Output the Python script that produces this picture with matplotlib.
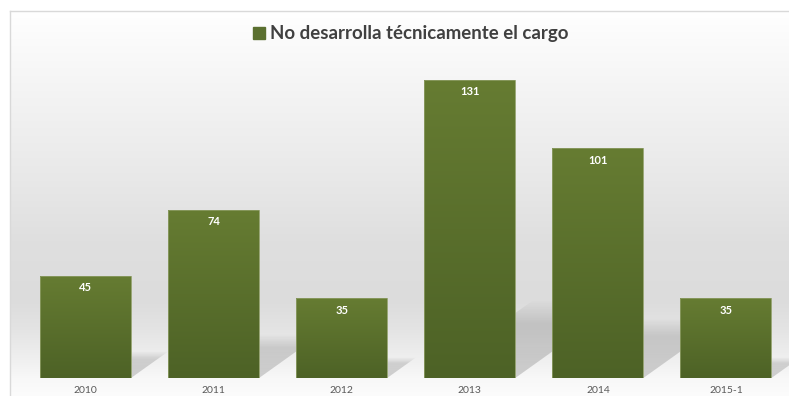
import numpy as np
import matplotlib
matplotlib.use('Agg')
import matplotlib.pyplot as plt
from matplotlib.patches import Polygon, Rectangle
from matplotlib.colors import LinearSegmentedColormap

categories = ['2010', '2011', '2012', '2013', '2014', '2015-1']
values = [45, 74, 35, 131, 101, 35]
series_name = 'No desarrolla técnicamente el cargo'

plt.rcParams['font.family'] = ['Lato', 'DejaVu Sans']

W, H = 789, 396
fig = plt.figure(figsize=(W / 100, H / 100), dpi=100)

# background with vertical gradient
bg = fig.add_axes([0, 0, 1, 1])
bg.set_axis_off()
ys = [0, 10, 60, 120, 180, 240, 300, 330, 360, 378, 396]
gs = [255, 255, 248, 240, 232, 223, 220, 228, 240, 248, 252]
rows = np.interp(np.arange(H), ys, gs) / 255.0
img = np.repeat(rows[:, None], W, axis=1)
img[:10, :] = 1.0
img[:, :10] = 1.0
bg.imshow(np.dstack([img] * 3), extent=[0, W, H, 0], aspect='auto', zorder=0)
bg.plot([10.5, 10.5], [10.5, H], color='#d9d9d9', lw=1, zorder=1)
bg.plot([10.5, W], [10.5, 10.5], color='#d9d9d9', lw=1, zorder=1)
bg.set_xlim(0, W)
bg.set_ylim(H, 0)

# legend
bg.add_patch(Rectangle((253, 27), 12, 12, color='#5b7030', zorder=2))
bg.text(270, 33, series_name, ha='left', va='center', fontsize=13.4,
        fontweight='bold', color='#404040', zorder=2)

# main axes
ax = fig.add_axes([21.5 / W, 18 / H, 768.5 / W, 318.5 / H])
ax.patch.set_alpha(0)
x = np.arange(len(categories))
bars = ax.bar(x, values, width=0.71, color='none', edgecolor='#8c9c64',
              lw=0.6, zorder=3)

green = LinearSegmentedColormap.from_list('g', ['#4d6226', '#667c32'])
shadow_cmap = LinearSegmentedColormap.from_list(
    's', [(0.0, (0, 0, 0, 0.17)), (0.7, (0, 0, 0, 0.14)), (1.0, (0, 0, 0, 0.0))])
grad = np.linspace(0, 1, 256)[:, None]

px_x = 768.5 / 6.0
px_y = 318.5 / 140.0
for b, v in zip(bars, values):
    x0 = b.get_x()
    x1 = x0 + b.get_width()
    # shadow (perspective, skewed up-right)
    hs = 0.26 * v
    dx = hs * px_y * 1.4 / px_x
    poly = Polygon([(x0, 0), (x1, 0), (x1 + dx, hs), (x0 + dx, hs)],
                   closed=True, facecolor='none', edgecolor='none')
    ax.add_patch(poly)
    im = ax.imshow(grad, cmap=shadow_cmap, origin='lower', aspect='auto',
                   extent=(x0, x1 + dx, 0, hs), zorder=2)
    im.set_clip_path(poly)
    # bar gradient
    im2 = ax.imshow(grad, cmap=green, origin='lower', aspect='auto',
                    extent=(x0, x1, 0, v), zorder=2.5)
    im2.set_clip_path(b)
    ax.annotate(str(v), (b.get_x() + b.get_width() / 2, v), xytext=(0, -12),
                textcoords='offset pixels', ha='center', va='center',
                color='white', fontweight='bold', fontsize=8, zorder=4)

ax.set_xlim(-0.5, 5.5)
ax.set_ylim(0, 140)
ax.set_xticks(x)
ax.set_xticklabels(categories)
ax.tick_params(axis='x', length=0, pad=6, labelsize=7.5, labelcolor='#595959')
ax.set_yticks([])
for s in ax.spines.values():
    s.set_visible(False)

fig.savefig('out.png', dpi=100)
